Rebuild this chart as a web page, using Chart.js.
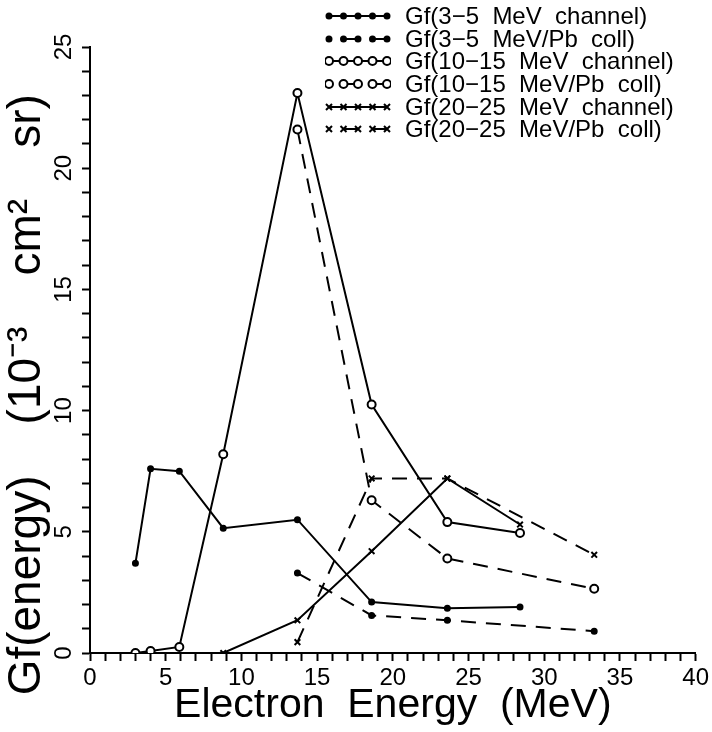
<!DOCTYPE html>
<html>
<head>
<meta charset="utf-8">
<script src="https://cdn.jsdelivr.net/npm/chart.js@4"></script>
<style>
  html,body{margin:0;padding:0;background:#fff;}
  #wrap{position:relative;width:712px;height:732px;}
  #legend{position:absolute;left:325px;top:5px;font-family:"Liberation Sans",sans-serif;font-size:24px;color:#000;}
  #legend .row{display:flex;align-items:center;height:22.6px;white-space:pre;}
  #legend canvas{margin-right:14px;}
</style>
</head>
<body>
<div id="wrap">
  <canvas id="c" width="712" height="732"></canvas>
  <div id="legend"></div>
</div>
<script>
// electron energies (MeV) for the channel runs and the Pb collimator runs
const eChan = [3, 4, 5.9, 8.8, 13.7, 18.6, 23.6, 28.4];
const eColl = [13.7, 18.6, 23.6, 33.3];
const e2025Chan = [8.8, 13.7, 18.6, 23.6, 28.4];

// Gf(energy), 10^-3 cm^2 sr
const gf35Chan = [3.7, 7.6, 7.5, 5.15, 5.5, 2.1, 1.85, 1.9];
const gf35Coll = [3.3, 1.55, 1.35, 0.9];
const gf1015Chan = [0, 0.08, 0.25, 8.2, 23.1, 10.25, 5.4, 4.95];
const gf1015Coll = [21.6, 6.3, 3.9, 2.65];
const gf2025Chan = [0, 1.35, 4.2, 7.2, 5.3];
const gf2025Coll = [0.45, 7.2, 7.2, 4.05];

const labels = [
  "Gf(3\u22125  MeV  channel)",
  "Gf(3\u22125  MeV/Pb  coll)",
  "Gf(10\u221215  MeV  channel)",
  "Gf(10\u221215  MeV/Pb  coll)",
  "Gf(20\u221225  MeV  channel)",
  "Gf(20\u221225  MeV/Pb  coll)"
];

const DASH = [15, 10];
const pts = (xs, ys) => xs.map((x, i) => ({x: x, y: ys[i]}));

const styles = [
  {pointStyle:"circle", r:2.5, fill:"#000", dash:[]},
  {pointStyle:"circle", r:2.5, fill:"#000", dash:DASH},
  {pointStyle:"circle", r:4, fill:"#fff", dash:[]},
  {pointStyle:"circle", r:4, fill:"#fff", dash:DASH},
  {pointStyle:"crossRot", r:4, fill:"#000", dash:[]},
  {pointStyle:"crossRot", r:4, fill:"#000", dash:DASH}
];
const series = [
  pts(eChan, gf35Chan),
  pts(eColl, gf35Coll),
  pts(eChan, gf1015Chan),
  pts(eColl, gf1015Coll),
  pts(e2025Chan, gf2025Chan),
  pts(eColl, gf2025Coll)
];

const datasets = series.map((d, i) => ({
  label: labels[i],
  data: d,
  showLine: true,
  borderColor: "#000",
  borderWidth: 2,
  borderDash: styles[i].dash,
  pointStyle: styles[i].pointStyle,
  pointRadius: styles[i].r,
  pointBorderWidth: 2,
  pointBackgroundColor: styles[i].fill,
  pointBorderColor: "#000"
}));

const FONT = "'Liberation Sans', sans-serif";
// trailing spaces push the centred title down towards the x axis, as in the original
const yTitle = "Gf(energy)    (10\u207B\u00B3    cm\u00B2    sr)" + "       ";

new Chart(document.getElementById("c"), {
  type: "scatter",
  data: {datasets: datasets},
  options: {
    responsive: false,
    animation: false,
    layout: {padding: {top: 47, right: 16, left: 0, bottom: 0}},
    plugins: {legend: {display: false}, tooltip: {enabled: false}},
    scales: {
      x: {
        min: 0, max: 40,
        grid: {drawOnChartArea: false, color: "#000", tickLength: 8, tickWidth: 2},
        border: {color: "#000", width: 2},
        ticks: {
          stepSize: 1, autoSkip: false, maxRotation: 0, color: "#000", padding: 3,
          font: {family: FONT, size: 24},
          callback: v => v % 5 === 0 ? String(v) : ""
        },
        title: {display: true, text: "Electron  Energy  (MeV)", color: "#000",
                font: {family: FONT, size: 41}, padding: {top: 0, bottom: 2}},
        afterFit: s => { s.height = 79; }
      },
      y: {
        min: 0, max: 25,
        grid: {drawOnChartArea: false, color: "#000", tickLength: 8, tickWidth: 2},
        border: {color: "#000", width: 2},
        ticks: {
          stepSize: 1, autoSkip: false, minRotation: 90, maxRotation: 90,
          crossAlign: "center", color: "#000", padding: 4,
          font: {family: FONT, size: 24},
          callback: v => v % 5 === 0 ? String(v) : ""
        },
        title: {display: true, text: yTitle, color: "#000",
                font: {family: FONT, size: 46}, padding: {top: 0, bottom: 0}},
        afterFit: s => { s.width = 90; }
      }
    }
  }
});

// legend: sample line with five markers, like the plotting package draws it
const leg = document.getElementById("legend");
styles.forEach((st, i) => {
  const row = document.createElement("div");
  row.className = "row";
  const cv = document.createElement("canvas");
  cv.width = 66; cv.height = 14;
  const g = cv.getContext("2d");
  g.strokeStyle = "#000"; g.lineWidth = 2;
  const xs = [4, 18.5, 33, 47.5, 62];
  g.beginPath();
  if (st.dash.length) {
    g.moveTo(xs[1], 7); g.lineTo(xs[2], 7);
    g.moveTo(xs[3], 7); g.lineTo(xs[4], 7);
  } else {
    g.moveTo(xs[0], 7); g.lineTo(xs[4], 7);
  }
  g.stroke();
  xs.forEach(x => {
    if (st.pointStyle === "crossRot") {
      g.beginPath();
      g.moveTo(x - 3, 4); g.lineTo(x + 3, 10);
      g.moveTo(x + 3, 4); g.lineTo(x - 3, 10);
      g.stroke();
    } else {
      g.beginPath();
      g.arc(x, 7, st.r, 0, Math.PI * 2);
      g.fillStyle = st.fill; g.fill(); g.stroke();
    }
  });
  row.appendChild(cv);
  const t = document.createElement("span");
  t.textContent = labels[i];
  row.appendChild(t);
  leg.appendChild(row);
});
</script>
</body>
</html>
